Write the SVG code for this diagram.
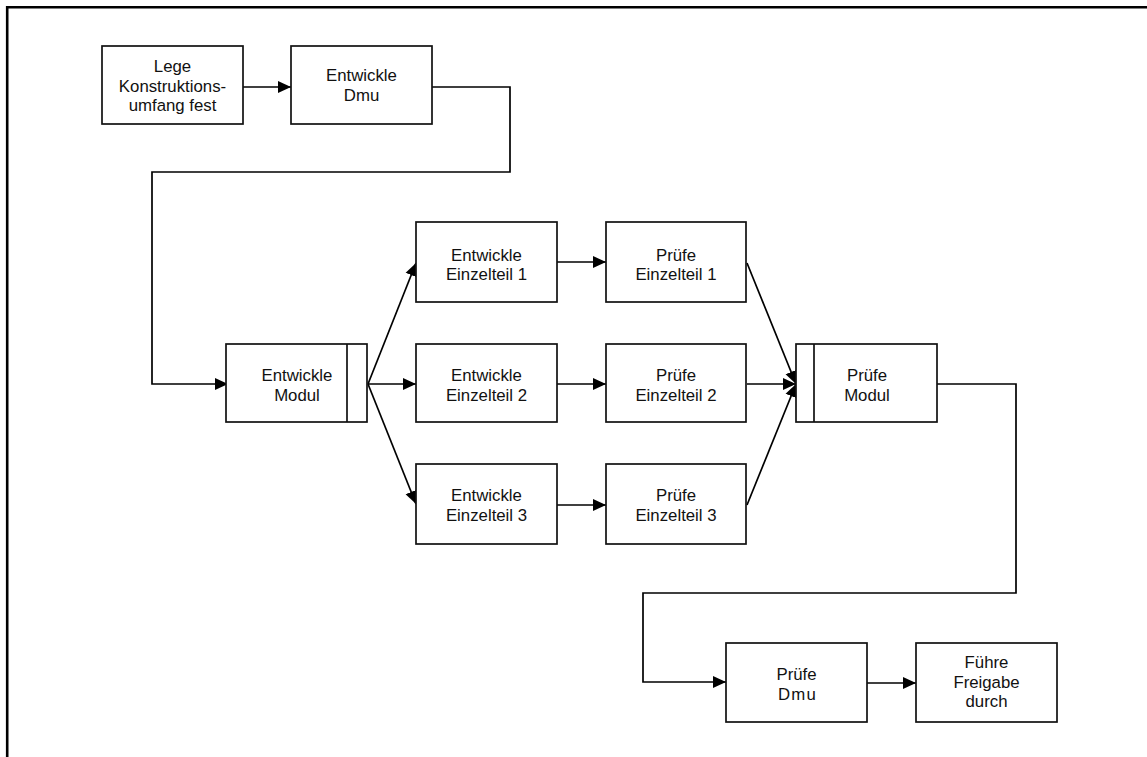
<svg xmlns="http://www.w3.org/2000/svg" width="1147" height="757" viewBox="0 0 1147 757">
<style>
  .box{fill:#fff;stroke:#111;stroke-width:1.7}
  .bar{fill:none;stroke:#111;stroke-width:1.7}
  .lbl{font-family:"Liberation Sans",Arial,sans-serif;font-size:16.8px;fill:#111;text-anchor:middle}
  .con{fill:none;stroke:#000;stroke-width:1.7}
</style>
<defs>
  <marker id="arr" markerUnits="userSpaceOnUse" markerWidth="14" markerHeight="13" refX="13" refY="6.5" orient="auto">
    <path d="M0,0.5 L13,6.5 L0,12.5 z" fill="#000"/>
  </marker>
</defs>
<rect width="1147" height="757" fill="#fff"/>
<path d="M7.2,757 V7.2 H1147" fill="none" stroke="#000" stroke-width="2.6"/>

<g id="connectors" class="con">
  <path d="M243,87 H291" marker-end="url(#arr)"/>
  <path d="M432,87 H510 V172 H152 V384 H228" marker-end="url(#arr)"/>
  <path d="M368,384 L416,263" marker-end="url(#arr)"/>
  <path d="M368,384 L416,384" marker-end="url(#arr)"/>
  <path d="M368,384 L416,504" marker-end="url(#arr)"/>
  <path d="M557,262 H606" marker-end="url(#arr)"/>
  <path d="M557,384 H606" marker-end="url(#arr)"/>
  <path d="M557,505 H606" marker-end="url(#arr)"/>
  <path d="M747,263 L796,384" marker-end="url(#arr)"/>
  <path d="M747,384 L796,384" marker-end="url(#arr)"/>
  <path d="M747,505 L796,384" marker-end="url(#arr)"/>
  <path d="M937,384 H1016 V593 H643 V682 H726" marker-end="url(#arr)"/>
  <path d="M867,683 H916" marker-end="url(#arr)"/>
</g>

<g id="n-lege">
  <rect class="box" x="102" y="46" width="141" height="78"/>
  <text class="lbl" x="172.5" y="72">Lege</text>
  <text class="lbl" x="172.5" y="91.5">Konstruktions-</text>
  <text class="lbl" x="172.5" y="111">umfang fest</text>
</g>
<g id="n-entwickle-dmu">
  <rect class="box" x="291" y="46" width="141" height="78"/>
  <text class="lbl" x="361.5" y="81">Entwickle</text>
  <text class="lbl" x="361.5" y="100.5">Dmu</text>
</g>
<g id="n-entwickle-modul">
  <rect class="box" x="226" y="344" width="141" height="78"/>
  <line class="bar" x1="347" y1="344" x2="347" y2="422"/>
  <text class="lbl" x="297" y="381">Entwickle</text>
  <text class="lbl" x="297" y="400.5">Modul</text>
</g>
<g id="n-ee1">
  <rect class="box" x="416" y="222" width="141" height="80"/>
  <text class="lbl" x="486.5" y="261">Entwickle</text>
  <text class="lbl" x="486.5" y="280">Einzelteil 1</text>
</g>
<g id="n-ee2">
  <rect class="box" x="416" y="344" width="141" height="78"/>
  <text class="lbl" x="486.5" y="381">Entwickle</text>
  <text class="lbl" x="486.5" y="400.5">Einzelteil 2</text>
</g>
<g id="n-ee3">
  <rect class="box" x="416" y="464" width="141" height="80"/>
  <text class="lbl" x="486.5" y="501">Entwickle</text>
  <text class="lbl" x="486.5" y="520.5">Einzelteil 3</text>
</g>
<g id="n-pe1">
  <rect class="box" x="606" y="222" width="140" height="80"/>
  <text class="lbl" x="676" y="261">Prüfe</text>
  <text class="lbl" x="676" y="280">Einzelteil 1</text>
</g>
<g id="n-pe2">
  <rect class="box" x="606" y="344" width="140" height="78"/>
  <text class="lbl" x="676" y="381">Prüfe</text>
  <text class="lbl" x="676" y="400.5">Einzelteil 2</text>
</g>
<g id="n-pe3">
  <rect class="box" x="606" y="464" width="140" height="80"/>
  <text class="lbl" x="676" y="501">Prüfe</text>
  <text class="lbl" x="676" y="520.5">Einzelteil 3</text>
</g>
<g id="n-pruefe-modul">
  <rect class="box" x="796" y="344" width="141" height="78"/>
  <line class="bar" x1="814" y1="344" x2="814" y2="422"/>
  <text class="lbl" x="867" y="381">Prüfe</text>
  <text class="lbl" x="867" y="400.5">Modul</text>
</g>
<g id="n-pruefe-dmu">
  <rect class="box" x="726" y="643" width="141" height="79"/>
  <text class="lbl" x="796.5" y="680">Prüfe</text>
  <text class="lbl" x="797.5" y="699.5" letter-spacing="1.2">Dmu</text>
</g>
<g id="n-freigabe">
  <rect class="box" x="916" y="643" width="141" height="79"/>
  <text class="lbl" x="986.5" y="668">Führe</text>
  <text class="lbl" x="986.5" y="687.5">Freigabe</text>
  <text class="lbl" x="986.5" y="707">durch</text>
</g>
</svg>
